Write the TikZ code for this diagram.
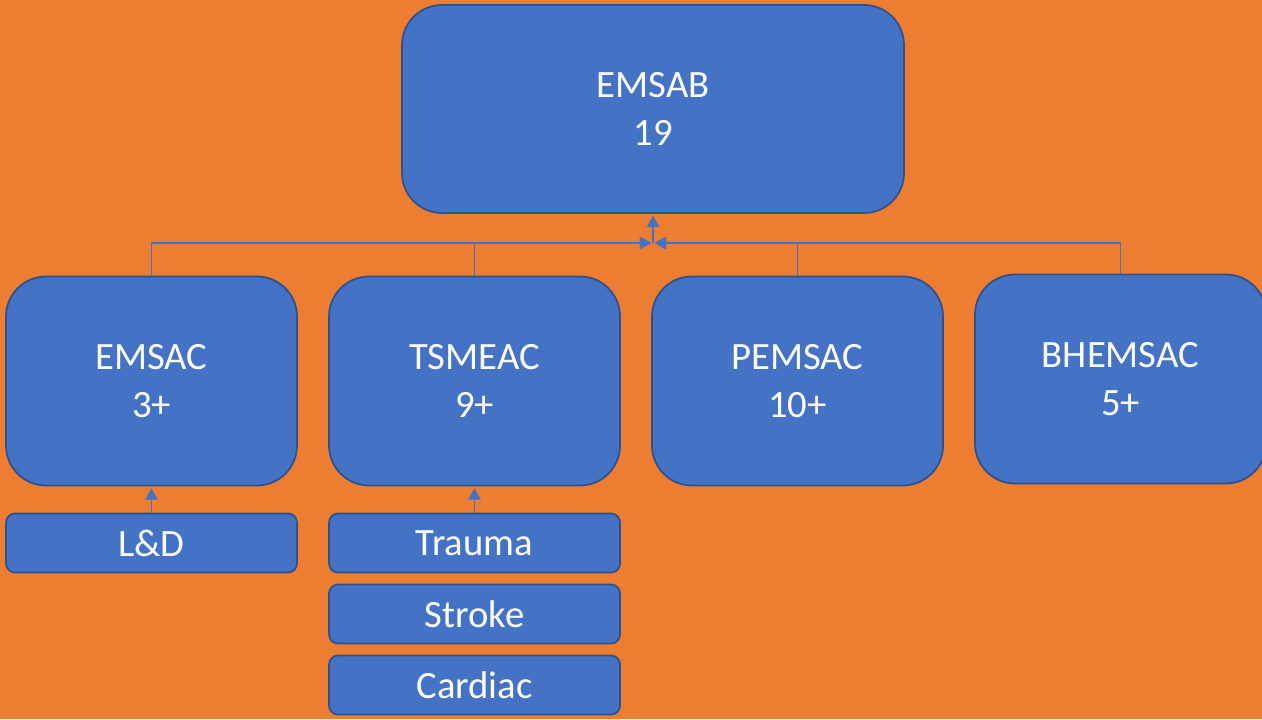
\documentclass[tikz,border=0pt]{standalone}
\usepackage{fontspec}
\setmainfont{Carlito}
\usetikzlibrary{positioning,arrows.meta}
\definecolor{boxblue}{HTML}{4472C4}
\definecolor{boxline}{HTML}{2F528F}
\definecolor{bgorange}{HTML}{ED7D31}
\tikzset{
      board/.style = {draw=boxline, fill=boxblue, text=white, line width=1pt, rounded corners=0.8cm, align=center, font=\fontsize{22}{27}\selectfont, minimum width=5.82cm, minimum height=4.18cm, inner sep=0pt},
      topboard/.style = {board, minimum width=10.04cm, minimum height=4.16cm},
      subboard/.style = {board, rounded corners=0.18cm, minimum height=1.18cm},
      link/.style = {boxblue, line width=0.8pt, shorten >=1pt, -{Triangle[width=7pt,length=6.5pt]}},
    }

\begin{document}
\begin{tikzpicture}[node distance=6.46cm, on grid]
            \clip (0,0) rectangle (25.24,-14.38);
            \fill [bgorange] (0,0) rectangle (25.24,-14.38);

            \node [topboard] (emsab) at (13.06,-2.18)      {EMSAB\\19};
            \node [board] (emsac) at (3.03,-7.62)          {EMSAC\\3+};
            \node [board] (tsmeac) [right=of emsac]        {TSMEAC\\9+};
            \node [board] (pemsac) [right=of tsmeac]       {PEMSAC\\10+};
            \node [board] (bhemsac) [right=of pemsac, yshift=0.04cm] {BHEMSAC\\5+};

            \node [subboard] (ld) [below=3.24cm of emsac]        {L\&D};
            \node [subboard] (trauma) [below=3.24cm of tsmeac]   {Trauma};
            \node [subboard] (stroke) [below=1.42cm of trauma]   {Stroke};
            \node [subboard] (cardiac) [below=1.42cm of stroke]  {Cardiac};

            \coordinate (hub) at (emsab.south |- 0,-4.86);

            \draw [link] (emsac.north) |- (hub);
            \draw [link] (tsmeac.north) |- (hub);
            \draw [link] (pemsac.north) |- (hub);
            \draw [link] (bhemsac.north) |- (hub);
            \draw [link] (hub) -- (emsab.south);
            \draw [link] (ld) -- (emsac);
            \draw [link] (trauma) -- (tsmeac);
      \end{tikzpicture}
\end{document}
